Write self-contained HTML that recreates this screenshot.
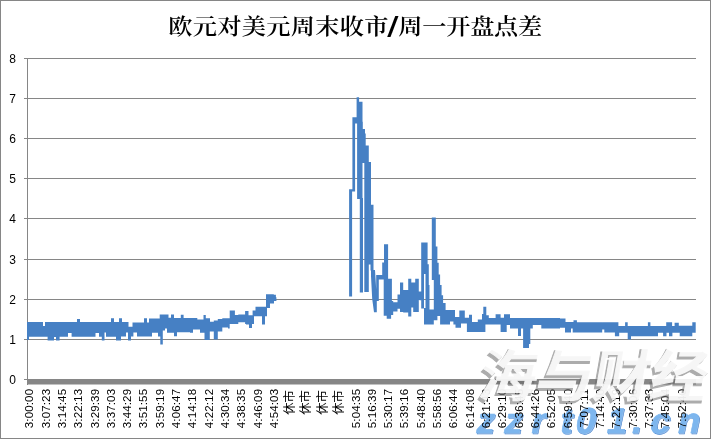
<!DOCTYPE html>
<html><head><meta charset="utf-8"><style>
html,body{margin:0;padding:0;background:#fff;}
body{width:711px;height:439px;overflow:hidden;}
svg{display:block;}
.t{font-family:"Liberation Sans","Noto Sans CJK SC",sans-serif;font-size:12px;fill:#000;}
.ttl{font-family:"Liberation Serif","Noto Serif CJK SC",serif;font-size:22px;font-weight:600;fill:#000;}
.sl{font-family:"Liberation Sans",sans-serif;font-size:28px;font-weight:bold;font-style:italic;fill:#000;}
.wm{font-family:"Noto Sans CJK SC",sans-serif;font-size:58px;font-weight:700;letter-spacing:-1px;}
.wb{font-family:"Liberation Sans",sans-serif;font-size:36px;font-weight:bold;stroke-width:0.6px;stroke-linejoin:round;}
</style></head><body>
<svg width="711" height="439" viewBox="0 0 711 439">
<rect x="0.5" y="0.5" width="710" height="438" fill="#fff" stroke="#868686" stroke-width="1"/>
<text class="ttl" transform="scale(1.1 1)" x="153.00" y="33.9" letter-spacing="0.27">欧元对美元周末收市</text><text class="sl" x="392.2" y="36.3" text-anchor="middle">/</text><text class="ttl" transform="scale(1.1 1)" x="362.00" y="33.9" letter-spacing="-0.18">周一开盘点差</text>
<g stroke="#868686" stroke-width="1" fill="none"><path d="M24 58.5H696"/><path d="M24 98.5H696"/><path d="M24 138.5H696"/><path d="M24 178.5H696"/><path d="M24 218.5H696"/><path d="M24 259.5H696"/><path d="M24 299.5H696"/><path d="M24 339.5H696"/><path d="M27.5 58V385"/><path d="M24 379.5H28"/></g>
<rect x="27" y="379" width="669" height="5.5" fill="#868686"/>
<path fill="#4680C4" d="M371 264.4L373.5 264.4L373.5 270L375 270L376.8 299L376.8 312.3L374 312.3L372.2 299L371 276ZM27 322H29V340H27ZM29 322H43V336.7H29ZM43 326H45V336.7H43ZM45 322H47.6V336.7H45ZM47.6 322H54V340.5H47.6ZM54 322H56V337H54ZM56 322H59.6V340.5H56ZM59.6 322H68V336.7H59.6ZM68 322H71.6V333H68ZM71.6 322H77V336.7H71.6ZM77 319H80V336.7H77ZM80 322H95.5V336.7H80ZM95.5 322H99V333H95.5ZM99 322H101.8V336.7H99ZM101.8 322H104.5V340.5H101.8ZM104.5 322H106V332.5H104.5ZM106 322H111V336.8H106ZM111 318.2H114V336.8H111ZM114 322H116V336.8H114ZM116 322H119V340.5H116ZM119 318.2H121V340.5H119ZM121 318.2H122V336.5H121ZM122 322H126V336.5H122ZM126 322H128V332.5H126ZM128 322H128.5V340.5H128ZM128.5 326.8H131V340.5H128.5ZM131 326.8H132.5V336.5H131ZM132.5 322.5H133.4V336.5H132.5ZM133.4 322.5H137V332.5H133.4ZM137 322.5H144V336.5H137ZM144 318.2H147V336.5H144ZM147 322.5H149V336.5H147ZM149 318.5H152V336.5H149ZM152 318.5H158V332.7H152ZM158 318.5H159.7V336.5H158ZM159.7 314.4H160.3V336.5H159.7ZM160.3 314.4H162.8V344.5H160.3ZM162.8 314.4H165V330.6H162.8ZM165 314.4H167V328.6H165ZM167 314.4H168.5V332.7H167ZM168.5 317.8H171V332.7H168.5ZM171 314.4H174V332.7H171ZM174 318H177V336.3H174ZM177 318H180.8V332.2H177ZM180.8 314.7H183.6V332.2H180.8ZM183.6 318H190V332.2H183.6ZM190 318H193V332.7H190ZM193 318H197.3V329.6H193ZM197.3 319.5H200V329.6H197.3ZM200 319.5H203.5V332.7H200ZM203.5 315H204.5V332.7H203.5ZM204.5 315H205.8V340H204.5ZM205.8 318.3H209.8V340H205.8ZM209.8 318.3H210V331.4H209.8ZM210 321.8H213.8V331.4H210ZM213.8 320.6H217.8V339.4H213.8ZM217.8 318.9H222.3V331.4H217.8ZM222.3 318.3H228V327.5H222.3ZM228 318.3H229.7V328.5H228ZM229.7 310.5H234.9V324H229.7ZM234.9 315H238.3V324H234.9ZM238.3 314.4H245.1V322.3H238.3ZM245.1 311H246V324H245.1ZM246 311H248.5V324.4H246ZM248.5 315.3H249V324.4H248.5ZM249 315.3H252V328H249ZM252 315.3H252.6V324H252ZM252.6 310.5H254V324H252.6ZM254 310.5H255.5V316.3H254ZM255.5 306.7H262V316.3H255.5ZM262 306.7H265V324.4H262ZM265 306.7H266V316.3H265ZM266 294.2H267V316.3H266ZM267 294.2H270V308H267ZM270 294.2H273.8V303.4H270ZM273.8 294.7H274V303.4H273.8ZM274 294.7H275.9V301H274ZM275.9 297.3H276.4V301H275.9ZM349.1 189.3H352.1V296.5H349.1ZM349.1 189.3H355.1V191.6H349.1ZM352.4 117.2H355.1V191.6H352.4ZM352.4 117.2H356.9V123.5H352.4ZM356.6 97.2H359.1V123.5H356.6ZM357.1 97.2H359.1V198.9H357.1ZM358.6 101.7H362.5V199H358.6ZM359.8 198H363V292.5H359.8ZM359.1 101.7H361.3V151H359.1ZM361.3 121.7H362.8V151H361.3ZM362.5 129H364.3V163H362.5ZM364.3 129H365V292H364.3ZM365 133.5H365.7V292H365ZM365.7 145.4H368.8V292H365.7ZM368.7 161.9H371V264.4H368.7ZM370.5 204.8H373.5V270.4H370.5ZM376.3 275H382.2V279.4H376.3ZM376.2 275H378.8V301H376.2ZM382.2 262.4H384V279.4H382.2ZM384 244.3H388.1V279H384ZM383.7 278.7H391.1V315.7H383.7ZM386.7 278.7H391.1V318.7H386.7ZM388.1 278.7H391.9V301H388.1ZM391.1 301H393.2V315H391.1ZM393.2 302.3H397.5V311.5H393.2ZM397.5 294.4H400V308.8H397.5ZM400 282.5H403.2V312H400ZM403.2 290H408.2V312.6H403.2ZM408.2 278.8H411.3V316.4H408.2ZM411.3 282.5H413.2V307.6H411.3ZM413.2 282.5H415.2V312H413.2ZM415.2 278.8H418.8V312H415.2ZM418.7 291.6H419.4V300H418.7ZM419.4 291.6H421.2V300.3H419.4ZM421.2 242.5H424V308.4H421.2ZM424 242.5H425.5V274H424ZM424 308H425.5V324.5H424ZM425.5 242.5H427.6V324.5H425.5ZM427.6 264.2H428.8V324.5H427.6ZM428.8 284.9H429.5V324.5H428.8ZM429.5 309.5H433.8V324.5H429.5ZM431.8 217.4H433.8V280H431.8ZM433.8 217.4H435.8V320.3H433.8ZM435.8 246.4H437.4V320.3H435.8ZM437.2 262.7H438.7V316H437.2ZM438.7 274.5H440.1V316H438.7ZM440.1 284.9H441.6V324.5H440.1ZM441.6 295.3H443.1V324.5H441.6ZM443.1 303H445.6V324.5H443.1ZM445.6 310H450V324.5H445.6ZM450 310H453.4V321.5H450ZM453.4 310H455V324.5H453.4ZM455 316.9H455.5V324.5H455ZM455.5 316.9H459.3V327.8H455.5ZM459.3 310.5H461V327.8H459.3ZM461 310.5H464.8V323.6H461ZM464.8 317.7H466.9V323.6H464.8ZM466.9 317.7H469V332H466.9ZM469 314.8H472V332H469ZM472 322H477.8V332H472ZM477.8 319.4H482V332H477.8ZM482 314H483.3V332H482ZM483.3 306.8H485.4V332H483.3ZM485.4 306.8H486.3V324.5H485.4ZM486.3 315.2H488.8V324.5H486.3ZM488.8 318.1H495.6V324.5H488.8ZM495.6 314.3H500.6V324.5H495.6ZM500.6 317.7H504V332H500.6ZM504 314.3H506.7V332H504ZM506.7 314.3H510V325H506.7ZM510 318.1H518V328.4H510ZM518 318.1H521V336H518ZM521 318.1H523.1V328.4H521ZM523.1 318.1H529V348H523.1ZM529 318.1H530.3V344H529ZM530.3 318.1H532.8V328.4H530.3ZM532.8 318.1H541.3V325H532.8ZM541.3 318.1H560V328.4H541.3ZM560 318.5H565V327.8H560ZM565 318.5H565.5V332.4H565ZM565.5 321.9H571V332.4H565.5ZM571 321.9H572.7V328.6H571ZM572.7 321.9H573.5V332.4H572.7ZM573.5 320.2H576.9V332.4H573.5ZM576.9 322.3H602.2V332.4H576.9ZM602.2 322.3H604.3V329.5H602.2ZM604.3 322.3H614.9V332.4H604.3ZM614.9 322.3H618.4V336.2H614.9ZM618.4 326.1H619.2V336.2H618.4ZM619.2 326.1H625.1V332.8H619.2ZM625.1 322.3H627.7V332.8H625.1ZM627.7 326.1H631V339.6H627.7ZM631 326.1H647.9V336.2H631ZM647.9 322.3H650.4V336.2H647.9ZM650.4 326.1H658V336.2H650.4ZM658 326.1H663.1V332.8H658ZM663.1 326.1H666.2V336.2H663.1ZM666.2 322.3H666.5V336.2H666.2ZM666.5 322.3H669V332.8H666.5ZM669 322.3H672.1V336.2H669ZM672.1 326.1H672.4V336.2H672.1ZM672.4 326.1H674.6V332.8H672.4ZM674.6 322.7H678.8V332.8H674.6ZM678.8 325.8H679.7V332.8H678.8ZM679.7 325.8H692.3V336.2H679.7ZM692.3 322.3H695.7V332.8H692.3Z"/>
<g class="t"><text x="16" y="62.5" text-anchor="end">8</text><text x="16" y="102.5" text-anchor="end">7</text><text x="16" y="142.5" text-anchor="end">6</text><text x="16" y="182.5" text-anchor="end">5</text><text x="16" y="222.5" text-anchor="end">4</text><text x="16" y="263.5" text-anchor="end">3</text><text x="16" y="303.5" text-anchor="end">2</text><text x="16" y="343.5" text-anchor="end">1</text><text x="16" y="383.5" text-anchor="end">0</text></g>
<g class="t"><text transform="translate(33.30 388.8) rotate(-90)" text-anchor="end" font-size="11.5" letter-spacing="0.15">3:00:00</text><text transform="translate(49.61 388.8) rotate(-90)" text-anchor="end" font-size="11.5" letter-spacing="0.15">3:07:23</text><text transform="translate(65.92 388.8) rotate(-90)" text-anchor="end" font-size="11.5" letter-spacing="0.15">3:14:45</text><text transform="translate(82.23 388.8) rotate(-90)" text-anchor="end" font-size="11.5" letter-spacing="0.15">3:22:13</text><text transform="translate(98.54 388.8) rotate(-90)" text-anchor="end" font-size="11.5" letter-spacing="0.15">3:29:39</text><text transform="translate(114.85 388.8) rotate(-90)" text-anchor="end" font-size="11.5" letter-spacing="0.15">3:37:03</text><text transform="translate(131.16 388.8) rotate(-90)" text-anchor="end" font-size="11.5" letter-spacing="0.15">3:44:29</text><text transform="translate(147.47 388.8) rotate(-90)" text-anchor="end" font-size="11.5" letter-spacing="0.15">3:51:55</text><text transform="translate(163.78 388.8) rotate(-90)" text-anchor="end" font-size="11.5" letter-spacing="0.15">3:59:19</text><text transform="translate(180.09 388.8) rotate(-90)" text-anchor="end" font-size="11.5" letter-spacing="0.15">4:06:47</text><text transform="translate(196.40 388.8) rotate(-90)" text-anchor="end" font-size="11.5" letter-spacing="0.15">4:14:18</text><text transform="translate(212.71 388.8) rotate(-90)" text-anchor="end" font-size="11.5" letter-spacing="0.15">4:22:12</text><text transform="translate(229.02 388.8) rotate(-90)" text-anchor="end" font-size="11.5" letter-spacing="0.15">4:30:34</text><text transform="translate(245.33 388.8) rotate(-90)" text-anchor="end" font-size="11.5" letter-spacing="0.15">4:38:35</text><text transform="translate(261.64 388.8) rotate(-90)" text-anchor="end" font-size="11.5" letter-spacing="0.15">4:46:09</text><text transform="translate(277.95 388.8) rotate(-90)" text-anchor="end" font-size="11.5" letter-spacing="0.15">4:54:03</text><text transform="translate(294.16 390.0) rotate(-90)" text-anchor="end" font-size="12.4">休市</text><text transform="translate(310.47 390.0) rotate(-90)" text-anchor="end" font-size="12.4">休市</text><text transform="translate(326.78 390.0) rotate(-90)" text-anchor="end" font-size="12.4">休市</text><text transform="translate(343.09 390.0) rotate(-90)" text-anchor="end" font-size="12.4">休市</text><text transform="translate(359.50 388.8) rotate(-90)" text-anchor="end" font-size="11.5" letter-spacing="0.15">5:04:35</text><text transform="translate(375.81 388.8) rotate(-90)" text-anchor="end" font-size="11.5" letter-spacing="0.15">5:16:39</text><text transform="translate(392.12 388.8) rotate(-90)" text-anchor="end" font-size="11.5" letter-spacing="0.15">5:30:17</text><text transform="translate(408.43 388.8) rotate(-90)" text-anchor="end" font-size="11.5" letter-spacing="0.15">5:39:16</text><text transform="translate(424.74 388.8) rotate(-90)" text-anchor="end" font-size="11.5" letter-spacing="0.15">5:48:40</text><text transform="translate(441.05 388.8) rotate(-90)" text-anchor="end" font-size="11.5" letter-spacing="0.15">5:58:56</text><text transform="translate(457.36 388.8) rotate(-90)" text-anchor="end" font-size="11.5" letter-spacing="0.15">6:06:44</text><text transform="translate(473.67 388.8) rotate(-90)" text-anchor="end" font-size="11.5" letter-spacing="0.15">6:14:08</text><text transform="translate(489.98 388.8) rotate(-90)" text-anchor="end" font-size="11.5" letter-spacing="0.15">6:21:43</text><text transform="translate(506.29 388.8) rotate(-90)" text-anchor="end" font-size="11.5" letter-spacing="0.15">6:29:10</text><text transform="translate(522.60 388.8) rotate(-90)" text-anchor="end" font-size="11.5" letter-spacing="0.15">6:36:45</text><text transform="translate(538.91 388.8) rotate(-90)" text-anchor="end" font-size="11.5" letter-spacing="0.15">6:44:26</text><text transform="translate(555.22 388.8) rotate(-90)" text-anchor="end" font-size="11.5" letter-spacing="0.15">6:52:05</text><text transform="translate(571.53 388.8) rotate(-90)" text-anchor="end" font-size="11.5" letter-spacing="0.15">6:59:40</text><text transform="translate(587.84 388.8) rotate(-90)" text-anchor="end" font-size="11.5" letter-spacing="0.15">7:07:11</text><text transform="translate(604.15 388.8) rotate(-90)" text-anchor="end" font-size="11.5" letter-spacing="0.15">7:14:40</text><text transform="translate(620.46 388.8) rotate(-90)" text-anchor="end" font-size="11.5" letter-spacing="0.15">7:22:19</text><text transform="translate(636.77 388.8) rotate(-90)" text-anchor="end" font-size="11.5" letter-spacing="0.15">7:30:06</text><text transform="translate(653.08 388.8) rotate(-90)" text-anchor="end" font-size="11.5" letter-spacing="0.15">7:37:33</text><text transform="translate(669.39 388.8) rotate(-90)" text-anchor="end" font-size="11.5" letter-spacing="0.15">7:45:04</text><text transform="translate(685.70 388.8) rotate(-90)" text-anchor="end" font-size="11.5" letter-spacing="0.15">7:52:40</text></g>
<g transform="translate(0 0)">
<text class="wm" transform="translate(474.5 398.5) skewX(-10)" fill="#6a6a6a" stroke="#6a6a6a" stroke-width="1" opacity="0.55">海与财经</text>
<text class="wm" transform="translate(477 396) skewX(-10)" fill="#fff" stroke="#fff" stroke-width="1" opacity="0.9">海与财经</text>
<g style="mix-blend-mode:multiply"><text class="wb" transform="translate(1.0 434.0) skewX(-12)" fill="#4a86d0" fill-opacity="0.5" stroke="#4a86d0" text-anchor="middle" ><tspan x="483.8 511.4 536.5 564.6 583.7 615.1 635.2 658.2 687.1" y="0">zzrt01.cn</tspan></text><text class="wb" transform="translate(0.0 433.0) skewX(-12)" fill="#7db6ee" fill-opacity="1" stroke="#7db6ee" text-anchor="middle" ><tspan x="483.8 511.4 536.5 564.6 583.7 615.1 635.2 658.2 687.1" y="0">zzrt01.cn</tspan></text></g>
</g>
</svg>
</body></html>
